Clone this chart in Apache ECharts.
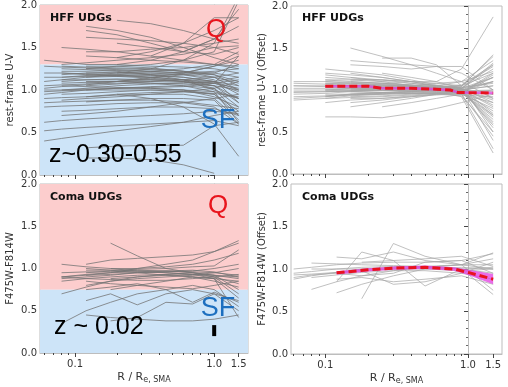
<!DOCTYPE html>
<html><head><meta charset="utf-8">
<script src="https://cdn.jsdelivr.net/npm/echarts@6/dist/echarts.min.js"></script>
<style>html,body{margin:0;padding:0;background:#fff}#c{width:508px;height:387px}</style>
</head><body><div id="c"></div>
<script>
// ---------- DATA ----------
// radii (R / Re,SMA) sampled for each panel's profiles
const radiiHffColor = [0.06, 0.08, 0.12, 0.2, 0.35, 0.6, 1.0, 1.5];
const radiiHffOffset = [0.06, 0.1, 0.15, 0.25, 0.4, 0.6, 0.9, 1.5];
const radiiComaColor = [0.08, 0.12, 0.18, 0.28, 0.45, 0.7, 1.0, 1.5];
const radiiComaOffset = [0.06, 0.08, 0.12, 0.18, 0.3, 0.5, 0.9, 1.5];

// HFF UDGs: rest-frame U-V profiles
const hffColorProfiles = [
 [null,null,1.75,1.7,1.62,1.5,1.38,1.3],
 [null,null,null,1.82,1.78,1.7,1.6,1.55],
 [null,null,1.62,1.6,1.58,1.55,1.5,1.42],
 [null,null,null,1.38,1.45,1.55,1.7,1.85],
 [null,null,null,1.3,1.35,1.45,1.6,1.75],
 [null,null,1.45,1.45,1.48,1.5,1.55,1.6],
 [null,1.3,1.32,1.35,1.38,1.42,1.5,1.52],
 [null,null,1.25,1.28,1.3,1.35,1.45,2.05],
 [null,null,null,1.2,1.25,1.35,1.55,2.1],
 [1.35,1.33,1.3,1.3,1.28,1.27,1.25,1.2],
 [null,1.28,1.27,1.26,1.25,1.22,1.2,1.15],
 [null,1.22,1.22,1.23,1.22,1.2,1.18,1.1],
 [1.1,1.12,1.15,1.18,1.2,1.2,1.22,1.25],
 [null,1.18,1.2,1.2,1.18,1.15,1.1,1.0],
 [null,null,1.15,1.16,1.17,1.15,1.1,0.95],
 [1.2,1.2,1.19,1.18,1.15,1.12,1.05,0.9],
 [null,1.1,1.12,1.13,1.12,1.1,1.05,0.85],
 [null,null,1.08,1.1,1.12,1.12,1.1,1.05],
 [1.05,1.06,1.07,1.08,1.08,1.07,1.05,1.0],
 [null,1.0,1.02,1.05,1.07,1.08,1.1,1.15],
 [null,null,1.0,1.02,1.04,1.05,1.02,0.8],
 [0.95,0.97,1.0,1.02,1.02,1.0,0.95,0.75],
 [null,0.95,0.96,0.98,1.0,1.0,0.98,0.9],
 [null,null,0.92,0.95,0.97,0.98,0.95,0.7],
 [0.9,0.91,0.92,0.94,0.95,0.95,0.9,0.65],
 [null,0.88,0.9,0.92,0.95,0.98,1.02,1.1],
 [null,null,0.86,0.88,0.9,0.9,0.88,0.6],
 [0.85,0.86,0.87,0.88,0.88,0.86,0.82,0.78],
 [null,null,1.25,1.24,1.22,1.2,1.28,1.4],
 [null,1.15,1.17,1.2,1.22,1.25,1.3,1.45],
 [null,null,null,1.1,1.15,1.2,1.28,1.35],
 [null,1.25,1.24,1.22,1.18,1.12,1.0,0.9],
 [null,null,1.2,1.21,1.2,1.18,1.12,0.85],
 [1.28,1.27,1.26,1.25,1.24,1.22,1.18,1.05],
 [null,null,1.05,1.07,1.1,1.12,1.15,1.2],
 [null,1.05,1.04,1.03,1.02,1.0,0.92,0.8],
 [0.4,0.43,0.47,0.52,0.57,0.62,0.7,0.75],
 [0.62,0.64,0.66,0.68,0.7,0.72,0.75,0.72],
 [null,0.75,0.76,0.78,0.8,0.8,0.78,0.7],
 [0.8,0.81,0.82,0.84,0.85,0.85,0.8,0.6],
 [null,null,0.32,0.34,0.35,0.35,0.58,0.62],
 [null,null,0.2,0.2,0.18,0.12,0.02,null],
 [null,null,null,0.95,0.9,0.8,0.6,0.22],
 [null,null,1.7,1.65,1.55,1.45,1.6,1.95],
 [null,null,null,1.55,1.5,1.45,1.42,1.5],
 [null,1.5,1.48,1.45,1.4,1.35,1.3,1.25],
 [null,null,1.4,1.38,1.35,1.33,1.3,1.28],
 [null,null,null,null,1.4,1.55,1.85,1.85],
 [0.98,0.99,1.0,1.0,1.0,0.98,0.96,0.92],
 [null,1.12,1.12,1.12,1.12,1.1,1.08,1.12],
 [null,null,1.28,1.28,1.26,1.22,1.15,1.0],
 [1.02,1.04,1.06,1.1,1.14,1.18,1.2,1.3],
 [null,0.7,0.72,0.75,0.8,0.85,0.9,0.95],
 [0.52,0.54,0.56,0.58,0.6,0.62,0.64,0.58],
 [null,1.2,1.18,1.16,1.14,1.1,1.02,0.7],
 [null,null,1.1,1.1,1.08,1.05,0.98,0.62],
 [1.15,1.15,1.16,1.17,1.18,1.18,1.15,1.08],
 [null,1.08,1.09,1.1,1.1,1.09,1.08,1.02],
 [null,null,1.18,1.17,1.15,1.12,1.08,0.98],
 [1.0,1.0,1.01,1.02,1.03,1.04,1.08,1.4]
];

// HFF UDGs: rest-frame U-V (offset) profiles
const hffOffsetProfiles = [
 [null,1.0,1.02,1.03,1.02,1.0,0.98,0.95],
 [1.08,1.07,1.06,1.05,1.04,1.02,1.0,1.1],
 [null,1.12,1.1,1.08,1.06,1.04,1.02,0.85],
 [null,null,1.2,1.15,1.1,1.05,1.0,0.7],
 [null,1.25,1.22,1.18,1.12,1.06,1.02,1.25],
 [0.95,0.96,0.98,1.0,1.0,1.0,0.98,0.6],
 [null,0.92,0.94,0.96,0.98,1.0,1.02,1.3],
 [null,null,1.5,1.4,1.3,1.2,1.1,0.9],
 [null,null,1.35,1.32,1.3,1.28,1.2,1.0],
 [null,0.68,0.68,0.67,0.72,0.78,0.85,0.95],
 [null,null,null,1.38,1.38,1.3,1.05,0.5],
 [0.9,0.92,0.95,0.97,0.98,0.99,1.0,1.15],
 [null,1.05,1.05,1.04,1.03,1.02,1.05,1.2],
 [null,null,1.12,1.12,1.1,1.1,1.25,1.87],
 [null,0.98,0.99,1.0,1.01,1.02,1.0,0.8],
 [1.02,1.02,1.02,1.02,1.01,1.0,0.98,0.75],
 [null,null,0.85,0.88,0.92,0.95,0.97,0.65],
 [null,1.15,1.13,1.12,1.1,1.08,1.05,1.4],
 [null,null,0.8,0.85,0.9,0.95,1.0,1.05],
 [0.88,0.9,0.93,0.95,0.98,1.0,1.03,1.08],
 [null,1.18,1.15,1.1,1.05,1.0,0.95,0.45],
 [null,null,1.1,1.08,1.06,1.02,0.95,0.3],
 [null,1.0,1.0,1.0,0.99,0.98,0.92,0.25],
 [null,null,1.0,1.02,1.05,1.08,1.1,1.35],
 [1.05,1.04,1.03,1.02,1.01,1.0,0.99,1.0],
 [null,0.95,0.95,0.96,0.97,0.98,1.0,0.9],
 [null,null,0.9,0.9,0.92,0.94,0.96,1.0],
 [null,1.1,1.08,1.07,1.05,1.03,1.02,1.15],
 [null,null,null,1.2,1.15,1.1,1.02,0.55],
 [0.98,0.98,0.99,0.99,1.0,1.0,1.0,1.05],
 [null,1.08,1.08,1.06,1.04,1.0,0.97,0.7],
 [null,null,0.95,0.95,0.96,0.97,0.97,1.2],
 [null,0.85,0.88,0.9,0.93,0.95,0.98,1.1],
 [null,null,1.05,1.06,1.05,1.05,1.1,1.22],
 [null,null,null,0.8,0.85,0.9,0.95,0.85],
 [null,1.03,1.03,1.03,1.02,1.02,1.02,0.4],
 [null,null,1.3,1.28,1.25,1.28,1.28,1.0],
 [1.0,1.0,1.01,1.02,1.02,1.03,1.04,1.42],
 [null,0.93,0.94,0.95,0.96,0.96,0.95,0.78],
 [null,null,1.02,1.0,0.98,0.96,0.94,0.92],
 [null,1.06,1.05,1.05,1.04,1.04,1.06,1.3],
 [null,null,0.98,0.97,0.96,0.95,0.93,0.5],
 [null,1.08,1.07,1.06,1.05,1.03,1.0,0.88],
 [0.97,0.98,0.99,1.0,1.0,0.99,0.97,1.15],
 [null,1.12,1.12,1.1,1.08,1.05,1.02,1.32],
 [null,null,0.92,0.93,0.95,0.97,1.0,0.62],
 [1.05,1.05,1.05,1.04,1.03,1.02,1.0,0.82],
 [null,1.0,0.98,0.97,0.96,0.96,0.97,1.18],
 [null,null,1.15,1.12,1.08,1.05,1.02,0.72],
 [0.92,0.93,0.95,0.97,0.99,1.0,1.0,0.98],
 [null,1.2,1.18,1.15,1.1,1.05,1.02,1.1],
 [null,null,1.0,1.01,1.02,1.03,1.05,1.28],
 [null,0.9,0.91,0.92,0.94,0.96,0.97,0.68],
 [1.1,1.1,1.09,1.08,1.06,1.04,1.0,0.58]
];

// Coma UDGs: F475W-F814W profiles
const comaColorProfiles = [
 [0.9,0.92,0.95,1.0,1.05,1.1,1.2,1.33],
 [null,1.05,1.1,1.12,1.14,1.16,1.2,1.3],
 [1.05,1.02,1.0,1.0,1.02,1.05,1.1,1.18],
 [null,null,1.3,1.15,1.0,0.95,0.92,0.9],
 [0.88,0.9,0.92,0.95,0.97,0.98,0.96,0.9],
 [0.9,0.93,0.95,0.96,0.95,0.93,0.92,0.88],
 [null,1.0,0.98,0.95,0.92,0.9,0.88,0.85],
 [0.85,0.88,0.9,0.92,0.93,0.9,0.85,0.78],
 [null,0.95,0.97,0.98,0.97,0.95,0.9,0.82],
 [0.7,0.78,0.85,0.9,0.93,0.95,0.92,0.75],
 [null,0.8,0.85,0.88,0.9,0.92,0.95,1.0],
 [null,null,0.75,0.8,0.85,0.9,0.88,0.65],
 [null,0.62,0.7,0.57,0.7,0.75,0.7,0.62],
 [0.35,0.5,0.6,0.7,0.75,0.8,0.75,0.55],
 [null,0.45,0.42,0.4,0.38,0.38,0.4,0.45],
 [null,null,0.38,0.42,0.6,0.58,0.7,0.5],
 [null,0.92,0.93,0.95,0.96,0.97,1.0,1.05],
 [0.95,0.96,0.96,0.97,0.97,0.96,0.95,0.92],
 [null,0.85,0.82,0.8,0.78,0.76,0.8,0.85],
 [null,null,0.88,0.9,0.92,0.93,0.9,0.7],
 [0.9,0.88,0.87,0.86,0.86,0.88,0.9,0.93],
 [null,0.75,0.78,0.82,0.75,0.6,0.72,0.6],
 [null,null,1.0,0.97,0.95,0.93,0.88,0.42],
 [null,0.98,0.98,0.99,1.0,1.02,1.03,1.22]
];

// Coma UDGs: F475W-F814W (offset) profiles
const comaOffsetProfiles = [
 [0.88,0.92,0.96,1.0,1.02,1.03,1.05,1.19],
 [1.0,1.02,1.05,1.07,1.08,1.08,1.1,1.18],
 [null,0.76,0.85,0.92,0.98,1.02,1.05,1.05],
 [null,null,0.72,0.82,0.92,1.0,1.02,1.0],
 [0.95,0.97,1.0,1.02,1.03,1.02,1.0,0.95],
 [null,null,null,0.65,1.3,1.15,1.05,1.0],
 [null,1.07,1.06,1.05,1.04,1.03,1.0,0.7],
 [null,null,1.14,1.12,1.2,1.1,1.05,0.75],
 [0.9,0.93,0.95,0.98,0.82,0.85,0.95,1.08],
 [null,null,0.85,1.2,1.1,0.8,1.0,1.02],
 [null,1.0,1.0,1.0,1.0,1.02,1.05,1.12],
 [null,null,0.95,0.92,0.95,1.08,1.1,0.95],
 [null,0.9,0.93,0.96,0.98,0.98,0.95,0.88],
 [null,null,0.88,0.9,0.85,0.88,0.92,0.82],
 [null,null,null,1.08,1.1,1.12,1.15,1.03],
 [0.93,0.94,0.96,0.98,1.0,1.0,0.98,1.0]
];

// median offset profiles and their uncertainty bands
const hffMedianR = [0.1, 0.2, 0.25, 0.4, 0.6, 0.75, 0.85, 1.5];
const hffMedian = [1.045, 1.045, 1.02, 1.02, 1.01, 1.0, 0.97, 0.965];
const hffMedianLow = [1.03, 1.03, 1.005, 1.005, 0.995, 0.985, 0.955, 0.95];
const hffMedianHigh = [1.06, 1.06, 1.035, 1.035, 1.025, 1.015, 0.985, 0.98];
const comaMedianR = [0.12, 0.2, 0.3, 0.5, 0.8, 1.0, 1.5];
const comaMedian = [0.955, 0.99, 1.01, 1.02, 1.0, 0.96, 0.88];
const comaMedianLow = [0.935, 0.97, 0.99, 1.0, 0.98, 0.93, 0.82];
const comaMedianHigh = [0.975, 1.01, 1.03, 1.04, 1.02, 0.99, 0.94];

// quiescent / star-forming colour boundaries
const hffQsfBoundary = 1.3;
const comaQsfBoundary = 0.75;
// typical error bars at R = 1.0
const errR = 1.0;
const hffErrBar = [0.21, 0.39];
const comaErrBar = [0.2, 0.33];

// axis ticks
const xMajorTicks = [0.1, 1.0, 1.5];
const xMinorTicks = [0.06, 0.07, 0.08, 0.09, 0.2, 0.3, 0.4, 0.5, 0.6, 0.7, 0.8, 0.9];

// ---------- CHART ----------
const lg = v => Math.log10(v);
const chart = echarts.init(document.getElementById('c'), null, {renderer: 'canvas'});

const panels = [
  {grid: {left: 40, top: 5, width: 208, height: 170}, xr: [0.056, 1.75], yName: 'rest-frame U-V',
   bottom: false, radii: radiiHffColor, profiles: hffColorProfiles, dark: true,
   bound: hffQsfBoundary, err: hffErrBar, errW: 3},
  {grid: {left: 291, top: 6, width: 211, height: 168}, xr: [0.0575, 1.73], yName: 'rest-frame U-V (Offset)',
   bottom: false, radii: radiiHffOffset, profiles: hffOffsetProfiles, dark: false,
   med: [hffMedianR, hffMedian, hffMedianLow, hffMedianHigh]},
  {grid: {left: 40, top: 184, width: 208, height: 169}, xr: [0.056, 1.75], yName: 'F475W-F814W',
   bottom: true, radii: radiiComaColor, profiles: comaColorProfiles, dark: true,
   bound: comaQsfBoundary, err: comaErrBar, errW: 4},
  {grid: {left: 291, top: 184, width: 211, height: 170}, xr: [0.0575, 1.73], yName: 'F475W-F814W (Offset)',
   bottom: true, radii: radiiComaOffset, profiles: comaOffsetProfiles, dark: false,
   med: [comaMedianR, comaMedian, comaMedianLow, comaMedianHigh]}
];

const grids = [], xAxes = [], yAxes = [], series = [];
const FONT = 'DejaVu Sans';
panels.forEach((p, i) => {
  grids.push(Object.assign({show: true, borderColor: '#bdbdbd', borderWidth: 1, backgroundColor: 'transparent'}, p.grid));
  const xMaj = xAxes.length;
  xAxes.push({
    type: 'value', gridIndex: i, position: 'bottom', min: lg(p.xr[0]), max: lg(p.xr[1]),
    axisLine: {show: true, lineStyle: {color: '#bdbdbd'}},
    axisTick: {show: true, customValues: xMajorTicks.map(lg), length: 4, lineStyle: {color: '#444'}},
    axisLabel: {show: p.bottom, customValues: xMajorTicks.map(lg), formatter: v => Math.pow(10, v).toFixed(1),
      color: '#333', fontSize: 10, fontFamily: FONT, margin: 6},
    splitLine: {show: false},
    name: p.bottom ? 'R / R{s|e, SMA}' : '', nameLocation: 'middle', nameGap: 17,
    nameTextStyle: {fontSize: 11, color: '#333', fontFamily: FONT,
      rich: {s: {fontSize: 8, fontFamily: FONT, color: '#333', verticalAlign: 'bottom', padding: [6, 0, 0, 0]}}}
  });
  xAxes.push({
    type: 'value', gridIndex: i, position: 'bottom', min: lg(p.xr[0]), max: lg(p.xr[1]),
    axisLine: {show: false},
    axisTick: {show: true, customValues: xMinorTicks.map(lg), length: 2, lineStyle: {color: '#444'}},
    axisLabel: {show: false}, splitLine: {show: false}
  });
  yAxes.push({
    type: 'value', gridIndex: i, min: 0, max: 2, interval: 0.5,
    axisLine: {show: true, lineStyle: {color: '#bdbdbd'}},
    axisTick: {show: true, length: 4, lineStyle: {color: '#444'}},
    minorTick: {show: true, splitNumber: 5, length: 2, lineStyle: {color: '#666'}},
    axisLabel: {formatter: v => v.toFixed(1), color: '#333', fontSize: 10, fontFamily: FONT, margin: 3},
    splitLine: {show: false},
    name: p.yName, nameLocation: 'middle', nameGap: p.dark ? 25 : 24, nameRotate: 90,
    nameTextStyle: {fontSize: 10, color: '#333', fontFamily: FONT}
  });
  if (p.bound != null) {
    series.push({type: 'line', xAxisIndex: xMaj, yAxisIndex: i, data: [], silent: true, z: 0,
      markArea: {silent: true, data: [
        [{yAxis: p.bound, itemStyle: {color: '#fccdcd'}}, {yAxis: 2}],
        [{yAxis: 0, itemStyle: {color: '#cde4f8'}}, {yAxis: p.bound}]
      ]}});
  }
  const col = p.dark ? 'rgba(115,115,115,0.78)' : 'rgba(165,165,165,0.7)';
  p.profiles.forEach(prof => {
    const d = [];
    prof.forEach((v, k) => { if (v != null) d.push([lg(p.radii[k]), v]); });
    series.push({type: 'line', xAxisIndex: xMaj, yAxisIndex: i, data: d, symbol: 'none', silent: true,
      lineStyle: {width: 1, color: col}, z: 2, animation: false});
  });
  if (p.err) {
    series.push({type: 'line', xAxisIndex: xMaj, yAxisIndex: i, data: p.err.map(v => [lg(errR), v]),
      symbol: 'none', silent: true, lineStyle: {width: p.errW, color: '#000'}, z: 5});
  }
  if (p.med) {
    const [r, m, lo, hi] = p.med;
    // uncertainty band as polygon, positioned through the cartesian coordinate system
    series.push({type: 'custom', xAxisIndex: xMaj, yAxisIndex: i, silent: true, z: 3,
      data: [[lg(r[0]), m[0]]],
      renderItem: (params, api) => {
        const pts = [];
        for (let k = 0; k < r.length; k++) pts.push(api.coord([lg(r[k]), hi[k]]));
        for (let k = r.length - 1; k >= 0; k--) pts.push(api.coord([lg(r[k]), lo[k]]));
        return {type: 'polygon', shape: {points: pts}, style: {fill: 'rgba(225,60,225,0.75)'}};
      }});
    series.push({type: 'line', xAxisIndex: xMaj, yAxisIndex: i, symbol: 'none', silent: true,
      data: r.map((x, k) => [lg(x), m[k]]), lineStyle: {width: 3, color: '#e8121e', type: [8, 4]}, z: 4});
  }
});

const txt = (x, y, text, font, fill, align) => ({type: 'text', x, y, z: 100, silent: true,
  style: {text, font, fill, align: align || 'left', verticalAlign: 'middle'}});
const graphic = [
  txt(50, 18, 'HFF UDGs', 'bold 11px "DejaVu Sans"', '#111'),
  txt(302, 18, 'HFF UDGs', 'bold 11px "DejaVu Sans"', '#111'),
  txt(50, 197, 'Coma UDGs', 'bold 11px "DejaVu Sans"', '#111'),
  txt(302, 197, 'Coma UDGs', 'bold 11px "DejaVu Sans"', '#111'),
  txt(216, 30, 'Q', '26px "Liberation Sans"', '#e8141c', 'center'),
  txt(218, 206, 'Q', '26px "Liberation Sans"', '#e8141c', 'center'),
  txt(218, 121, 'SF', '27px "Liberation Sans"', '#1d6fbf', 'center'),
  txt(218, 309, 'SF', '27px "Liberation Sans"', '#1d6fbf', 'center'),
  txt(49, 155, 'z~0.30-0.55', '25px "Liberation Sans"', '#000'),
  txt(54, 327, 'z ~ 0.02', '25px "Liberation Sans"', '#000')
];

chart.setOption({
  animation: false,
  backgroundColor: '#fff',
  grid: grids, xAxis: xAxes, yAxis: yAxes, series, graphic
});
</script></body></html>
